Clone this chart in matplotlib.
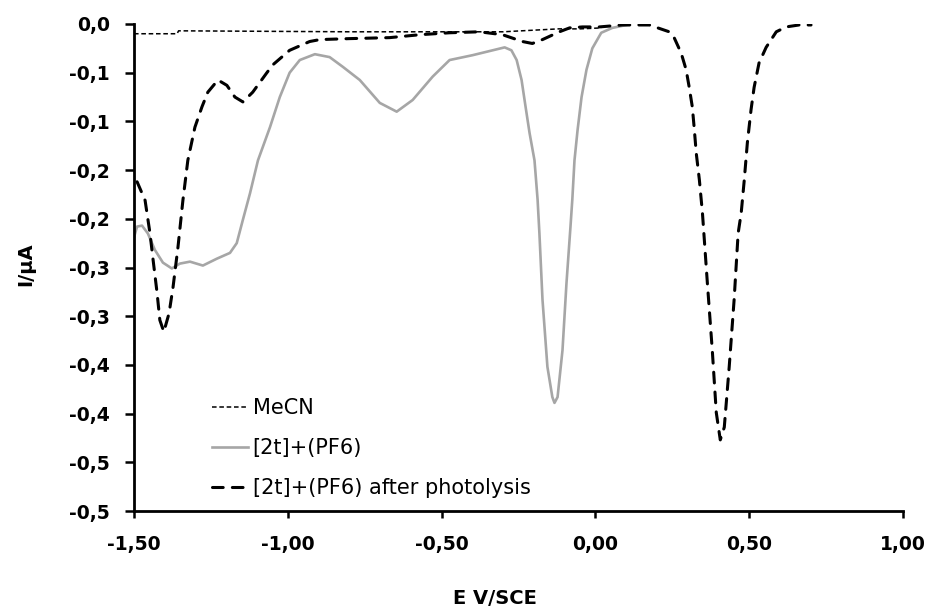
"""
Cyclic voltammetry style plot: MeCN blank, [2t]+(PF6) before and after photolysis.
"""

import matplotlib
matplotlib.use("Agg")
import matplotlib.pyplot as plt

# ---------------------------------------------------------------------------
# Data
# ---------------------------------------------------------------------------

MECN_E = [-1.50, -1.36, -1.355, -0.80, -0.30, -0.12, -0.05, 0.02]
MECN_I = [-0.010, -0.010, -0.007, -0.008, -0.008, -0.005, -0.005, -0.004]

SALT_E = [-1.500, -1.490, -1.474, -1.455, -1.432, -1.406, -1.377, -1.351,
          -1.318, -1.276, -1.231, -1.188, -1.166, -1.146, -1.123, -1.097,
          -1.058, -1.026, -0.994, -0.961, -0.912, -0.864, -0.821, -0.766,
          -0.701, -0.646, -0.594, -0.529, -0.474, -0.399, -0.295, -0.273,
          -0.256, -0.240, -0.227, -0.214, -0.198, -0.188, -0.182, -0.172,
          -0.156, -0.140, -0.133, -0.123, -0.107, -0.094, -0.081, -0.075,
          -0.068, -0.058, -0.045, -0.029, -0.010, 0.019, 0.055, 0.101]
SALT_I = [-0.219, -0.208, -0.207, -0.215, -0.232, -0.245, -0.251, -0.246,
          -0.244, -0.248, -0.241, -0.235, -0.225, -0.201, -0.174, -0.140,
          -0.106, -0.075, -0.050, -0.037, -0.031, -0.034, -0.044, -0.0575,
          -0.081, -0.090, -0.078, -0.054, -0.037, -0.032, -0.024, -0.027,
          -0.037, -0.0575, -0.085, -0.112, -0.140, -0.180, -0.215, -0.283,
          -0.352, -0.383, -0.389, -0.383, -0.335, -0.266, -0.208, -0.180,
          -0.140, -0.109, -0.075, -0.047, -0.025, -0.009, -0.004, -0.001]

PHOTO_E = [-1.490, -1.464, -1.448, -1.438, -1.425, -1.416, -1.403, -1.386,
           -1.373, -1.357, -1.341, -1.325, -1.302, -1.279, -1.260, -1.227,
           -1.198, -1.172, -1.146, -1.114, -1.068, -1.049, -0.994, -0.929,
           -0.896, -0.799, -0.669, -0.571, -0.474, -0.377, -0.302, -0.237,
           -0.205, -0.172, -0.117, -0.084, -0.042, 0.013, 0.088, 0.143,
           0.175, 0.240, 0.256, 0.279, 0.295, 0.305, 0.315, 0.321, 0.328,
           0.338, 0.348, 0.364, 0.380, 0.393, 0.406, 0.419, 0.435, 0.451,
           0.464, 0.474, 0.484, 0.494, 0.506, 0.516, 0.532, 0.555, 0.588,
           0.620, 0.662, 0.701]
PHOTO_I = [-0.162, -0.181, -0.215, -0.242, -0.276, -0.304, -0.316, -0.297,
           -0.270, -0.229, -0.181, -0.140, -0.106, -0.085, -0.070, -0.0575,
           -0.063, -0.075, -0.080, -0.070, -0.050, -0.042, -0.027, -0.018,
           -0.016, -0.015, -0.014, -0.011, -0.009, -0.008, -0.011, -0.018,
           -0.020, -0.016, -0.008, -0.004, -0.003, -0.003, -0.001, -0.001,
           -0.001, -0.008, -0.014, -0.030, -0.047, -0.065, -0.085, -0.106,
           -0.133, -0.160, -0.194, -0.266, -0.335, -0.399, -0.427, -0.414,
           -0.352, -0.283, -0.215, -0.194, -0.160, -0.122, -0.088, -0.065,
           -0.040, -0.024, -0.008, -0.003, -0.001, -0.001]

X_TICKS = [-1.5, -1.0, -0.5, 0.0, 0.5, 1.0]
X_TICK_LABELS = ["-1,50", "-1,00", "-0,50", "0,00", "0,50", "1,00"]
Y_TICKS = [0.0, -0.05, -0.10, -0.15, -0.20, -0.25, -0.30, -0.35, -0.40, -0.45, -0.50]
Y_TICK_LABELS = ["0,0", "-0,1", "-0,1", "-0,2", "-0,2", "-0,3",
                 "-0,3", "-0,4", "-0,4", "-0,5", "-0,5"]

LABELS = ["MeCN", "[2t]+(PF6)", "[2t]+(PF6) after photolysis"]

# ---------------------------------------------------------------------------
# Plot
# ---------------------------------------------------------------------------

plt.rcParams["font.family"] = ["DejaVu Sans"]

W, H = 931, 609
fig = plt.figure(figsize=(W / 100, H / 100), dpi=100)
ax = fig.add_axes([134 / W, 1 - 511 / H, (903 - 134) / W, (511 - 24) / H])

ax.plot(MECN_E, MECN_I, color="black", lw=1.1, dashes=(3, 1.8), label=LABELS[0])
ax.plot(SALT_E, SALT_I, color="#a6a6a6", lw=1.9, label=LABELS[1])
ax.plot(PHOTO_E, PHOTO_I, color="black", lw=2.2, dashes=(3.5, 3),
        dash_capstyle="round", label=LABELS[2])

ax.set_xlim(-1.5, 1.0)
ax.set_ylim(-0.5, 0.0)
ax.set_xticks(X_TICKS)
ax.set_xticklabels(X_TICK_LABELS)
ax.set_yticks(Y_TICKS)
ax.set_yticklabels(Y_TICK_LABELS)

for side in ("top", "right"):
    ax.spines[side].set_visible(False)
for side in ("left", "bottom"):
    ax.spines[side].set_linewidth(2.0)
ax.tick_params(axis="both", width=1.8, labelsize=13.5)
ax.tick_params(axis="y", length=6.5, pad=11)
ax.tick_params(axis="x", length=5, pad=12)
for lab in ax.get_xticklabels() + ax.get_yticklabels():
    lab.set_fontweight("bold")

fig.text(26 / W, 1 - 264 / H, "I/µA", rotation=90, ha="center", va="center",
         fontsize=14, fontweight="bold")
fig.text(495 / W, 1 - 598 / H, "E V/SCE", ha="center", va="center",
         fontsize=14, fontweight="bold")

ax.legend(loc="upper left", bbox_to_anchor=(212 / W, 1 - 398 / H),
          bbox_transform=fig.transFigure, frameon=False, fontsize=15,
          handlelength=1.75, handletextpad=0.2, labelspacing=0.96,
          borderpad=0, borderaxespad=0)

fig.savefig("out.png", dpi=100)
